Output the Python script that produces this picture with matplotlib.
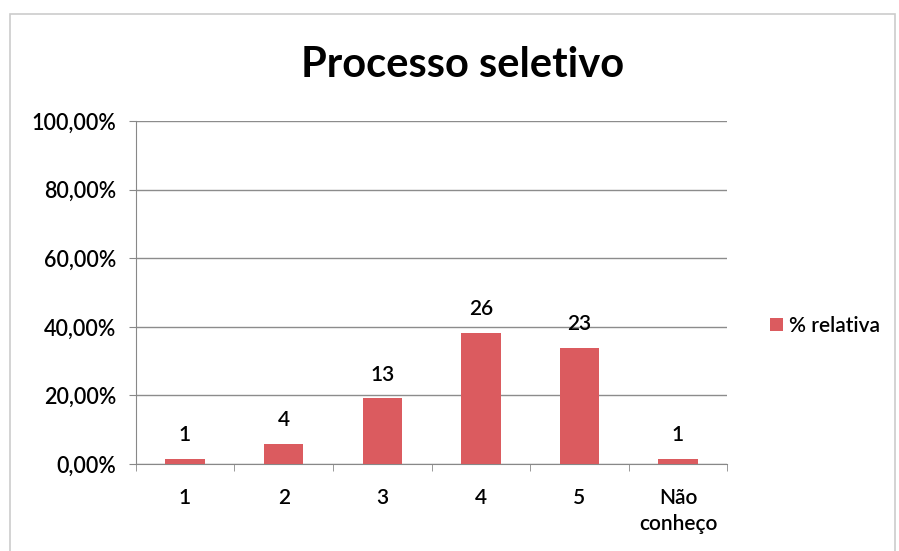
import matplotlib
matplotlib.use('Agg')
import matplotlib.pyplot as plt
from matplotlib.patches import Rectangle
from matplotlib.ticker import FuncFormatter

categories = ['1', '2', '3', '4', '5', 'Não\nconheço']
percent = [1.47, 5.88, 19.12, 38.24, 33.82, 1.47]  # % relativa
counts = ['1', '4', '13', '26', '23', '1']

bar_color = '#DB5B5F'

plt.rcParams['font.family'] = ['Lato', 'DejaVu Sans']
plt.rcParams['font.weight'] = 'semibold'

fig = plt.figure(figsize=(8.99, 5.51), dpi=100)
ax = fig.add_axes([0.151, 0.158, 0.658, 0.622])

x = list(range(len(categories)))
bars = ax.bar(x, percent, width=0.4, color=bar_color, label='% relativa', zorder=3)
for b, c in zip(bars, counts):
    ax.text(b.get_x() + b.get_width() / 2, b.get_height() + 4.0, c,
            ha='center', va='bottom', fontsize=15, zorder=4)

ax.set_xlim(-0.5, len(categories) - 0.5)
ax.set_ylim(0, 100)
ax.set_yticks(range(0, 101, 20))
ax.yaxis.set_major_formatter(FuncFormatter(lambda v, p: f'{v:.2f}%'.replace('.', ',')))
ax.set_xticks(x)
ax.set_xticklabels(categories, fontsize=15, linespacing=1.4)
ax.set_xticks([i + 0.5 for i in x[:-1]] + [-0.5, len(categories) - 0.5], minor=True)
ax.tick_params(axis='x', which='major', length=0, pad=17)
ax.tick_params(axis='x', which='minor', length=5, color='#888888')
ax.tick_params(axis='y', labelsize=15.5, length=5, color='#888888', pad=9)
ax.grid(axis='y', color='#8c8c8c', linewidth=1.0, zorder=0)

for s in ['top', 'right']:
    ax.spines[s].set_visible(False)
ax.spines['left'].set_color('#888888')
ax.spines['bottom'].set_color('#888888')

fig.text(0.515, 0.882, 'Processo seletivo', ha='center', va='center',
         fontsize=30, fontweight='bold')

fig.legend(loc='center left', bbox_to_anchor=(0.836, 0.408), frameon=False,
           fontsize=15, handlelength=0.6, handleheight=0.6, handletextpad=0.3)

fig.patches.append(Rectangle((0.011, -0.01), 0.985, 0.985, transform=fig.transFigure,
                             fill=False, edgecolor='#cccccc', linewidth=1.2))

fig.savefig('out.png', dpi=100)
